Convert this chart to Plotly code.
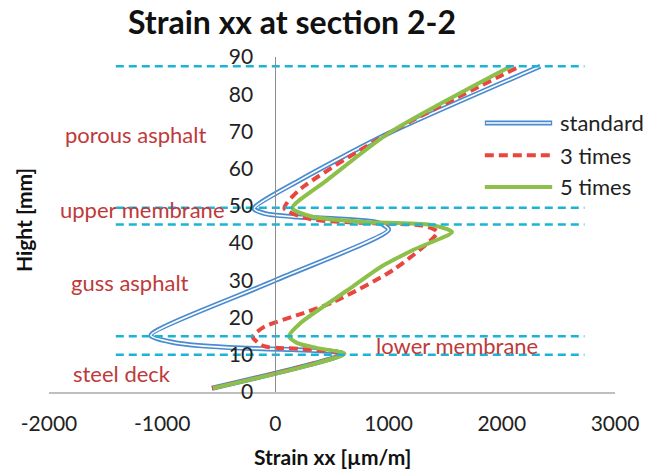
import plotly.graph_objects as go

# layer boundaries [mm] (dashed lines) and layer names
layer_tops = [10, 15, 45, 49.5, 87.5]
layer_names = ["steel deck", "lower membrane", "guss asphalt", "upper membrane", "porous asphalt"]
layer_label_pos = [(-1355, 5.1), (1605, 12.6), (-1284, 29.3), (-1178, 48.9), (-1240, 69.3)]

# strain profiles: x = strain [um/m], y = height [mm]
std_x = [-560, 600, 150, -300, -650, -900, -1100, 0, 1000, 920, 500, 200, -90, -190, 220, 1000, 2340]
std_y = [1, 10.3, 11.4, 11.8, 12.4, 13.3, 15.2, 30, 43.6, 45.4, 46.6, 47, 47.9, 49.3, 57, 69.5, 87.5]

x3_x = [-560, 600, 200, -100, -200, -100, 200, 500, 1050, 1430, 1300, 800, 300, 80, 200, 1000, 2160]
x3_y = [1, 10.3, 11.6, 12.3, 14.8, 17.5, 20.7, 24, 33, 43, 44.7, 45.4, 46.5, 49.3, 54, 69.5, 87.5]

x5_x = [-550, 610, 370, 190, 120, 220, 640, 930, 1220, 1560, 1370, 780, 340, 150, 460, 1000, 2080]
x5_y = [1, 10.3, 11.8, 13.2, 15, 18.5, 27.4, 33.6, 38.2, 43, 44.9, 45.7, 47, 49.4, 57, 69.5, 87.5]

x_ticks = [-2000, -1000, 0, 1000, 2000, 3000]
dash_x = [-1410, 2730]

blue = "#4A8BD0"
red = "#E8463E"
green = "#8DC04A"
cyan = "#1CB4D6"
label_red = "#BE3A3A"

fig = go.Figure()

# standard: double line (blue outline with white core)
fig.add_trace(go.Scatter(x=std_x, y=std_y, mode="lines", name="standard",
                         line=dict(color=blue, width=5, shape="spline", smoothing=0.7)))
fig.add_trace(go.Scatter(x=std_x, y=std_y, mode="lines", showlegend=False,
                         line=dict(color="white", width=1.6, shape="spline", smoothing=0.7)))
fig.add_trace(go.Scatter(x=x3_x, y=x3_y, mode="lines", name="3 times",
                         line=dict(color=red, width=4, dash="9px,5px", shape="spline", smoothing=0.7)))
fig.add_trace(go.Scatter(x=x5_x, y=x5_y, mode="lines", name="5 times",
                         line=dict(color=green, width=4, shape="spline", smoothing=0.7)))

for h in layer_tops:
    fig.add_trace(go.Scatter(x=dash_x, y=[h, h], mode="lines", showlegend=False,
                             line=dict(color=cyan, width=2.5, dash="8px,5px")))

for name, (lx, ly) in zip(layer_names, layer_label_pos):
    fig.add_annotation(x=lx, y=ly, text=name, showarrow=False, xanchor="center", yanchor="middle",
                       font=dict(size=22, color=label_red))

# hand-made legend to get the double line sample
leg_y = [0.803, 0.707, 0.612]
leg_items = [("standard", blue, "solid", 5), ("3 times", red, "9px,5px", 4), ("5 times", green, "solid", 4)]
for (txt, col, dsh, w), ly in zip(leg_items, leg_y):
    fig.add_shape(type="line", xref="paper", yref="paper", x0=0.770, x1=0.889, y0=ly, y1=ly,
                  line=dict(color=col, width=w, dash=dsh))
    if txt == "standard":
        fig.add_shape(type="line", xref="paper", yref="paper", x0=0.772, x1=0.887, y0=ly, y1=ly,
                      line=dict(color="white", width=1.6))
    fig.add_annotation(x=0.899, y=ly, xref="paper", yref="paper", text=txt, showarrow=False,
                       xanchor="left", yanchor="middle", font=dict(size=22, color="#222"))

fig.add_annotation(x=0.5, y=-0.194, xref="paper", yref="paper", text="<b>Strain xx [µm/m]</b>",
                   showarrow=False, xanchor="center", yanchor="middle",
                   font=dict(size=21, color="#111"))
fig.add_annotation(x=-0.046, y=0.513, xref="paper", yref="paper", text="<b>Hight [mm]</b>",
                   showarrow=False, textangle=-90, xanchor="center", yanchor="middle",
                   font=dict(size=21, color="#111"))

fig.update_layout(
    width=663, height=469,
    margin=dict(l=49, r=48, t=57, b=77),
    paper_bgcolor="white", plot_bgcolor="white",
    showlegend=False,
    font=dict(family="Lato", size=21, color="#222"),
    title=dict(text="<b>Strain xx at section 2-2</b>", x=0.4404, y=0.951, xanchor="center",
               yanchor="middle", font=dict(size=32, color="#111")),
    xaxis=dict(range=[-2000, 3000], tickvals=x_ticks, ticktext=[str(v) for v in x_ticks],
               showgrid=False, zeroline=False,
               showline=True, linecolor="#BFBFBF", linewidth=2, ticks="",
               ticklabelstandoff=12, automargin=False),
    yaxis=dict(range=[0, 90], dtick=10, showgrid=False, zeroline=False,
               showline=True, linecolor="#8C8C8C", linewidth=1, ticks="",
               anchor="free", position=0.4, ticklabelstandoff=18, automargin=False),
)

fig.write_html("out.html", config={"displayModeBar": False},
               post_script="document.body.style.margin='0';")
